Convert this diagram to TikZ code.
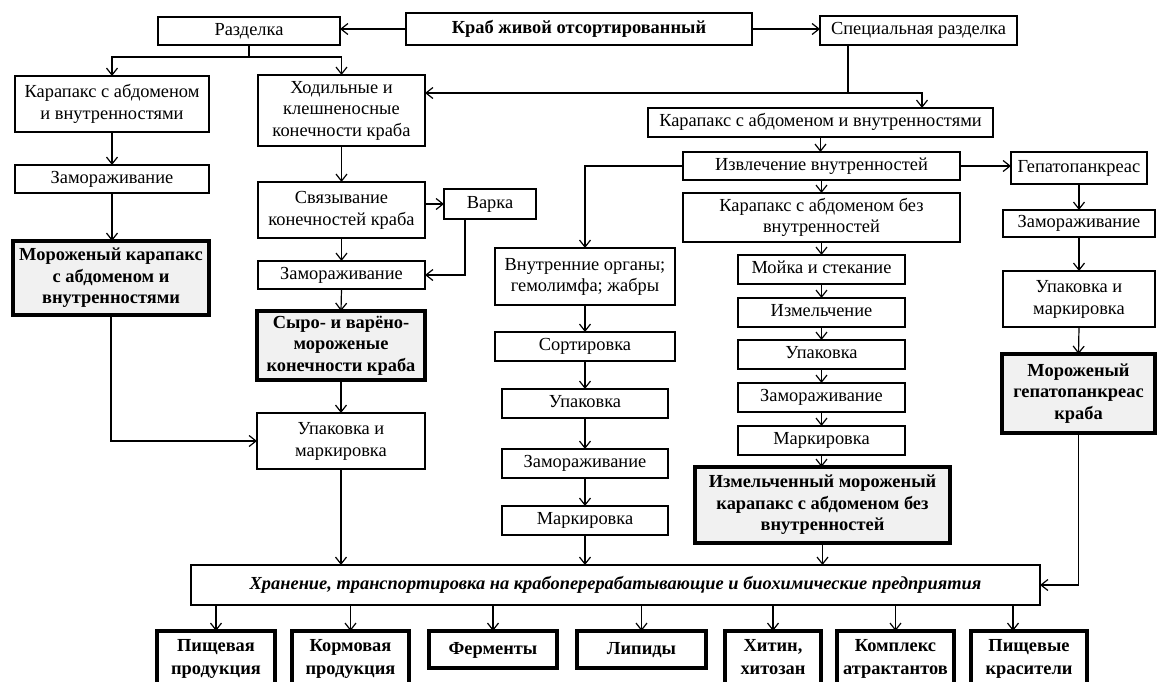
\documentclass[tikz,border=0pt]{standalone}
\usepackage{fontspec}
\setmainfont{Liberation Serif}
\usetikzlibrary{arrows.meta}
\definecolor{boxgrey}{HTML}{F1F1F1}
\tikzset{
  box/.style={draw, line width=1.6pt, fill=white, inner sep=0pt, outer sep=0pt, align=center,
    font=\fontsize{18.4}{21.5}\selectfont},
  prod/.style={line width=4pt, fill=boxgrey, font=\fontsize{18.4}{21.5}\selectfont\bfseries},
  fin/.style={line width=4pt, fill=white, font=\fontsize{18.4}{23}\selectfont\bfseries},
  arr/.style={line width=1.2pt, -{Straight Barb[length=7pt,width=11pt]}},
  ln/.style={line width=1.2pt}
}
\newcommand\mybox[7][]{%
  \pgfmathsetmacro\bw{#5-#3}\pgfmathsetmacro\bh{#6-#4}%
  \node[box,#1,minimum width=\bw pt,minimum height=\bh pt] (#2) at ({(#3+#5)/2},{(#4+#6)/2}) {\strut#7\strut};}
\begin{document}
\begin{tikzpicture}[x=1pt,y=-1pt]
\useasboundingbox (0,0) rectangle (1159,681);
\clip (0,0) rectangle (1159,681);
% top row
\mybox{razd}{158}{17}{340}{45}{Разделка}
\mybox[line width=2.6pt,font=\fontsize{18.4}{21.5}\selectfont\bfseries]{krab}{406}{13}{752}{45}{Краб живой отсортированный}
\mybox{spec}{820}{16}{1017}{45}{Специальная разделка}
% column 1
\mybox{kar1}{15}{76}{209}{132}{Карапакс с абдоменом\\и внутренностями}
\mybox{kar1z}{15}{165}{209}{193}{Замораживание}
\mybox[prod]{morkar}{13}{241}{209}{315}{Мороженый карапакс\\с абдоменом и\\внутренностями}
% column 2
\mybox{hod}{258}{75}{425}{146}{Ходильные и\\клешненосные\\конечности краба}
\mybox{svyaz}{258}{182}{425}{238}{Связывание\\конечностей краба}
\mybox{varka}{444}{189}{536}{219}{Варка}
\mybox{zam2}{258}{261}{425}{289}{Замораживание}
\mybox[prod]{syro}{257}{311}{425}{380}{Сыро- и варёно-\\мороженые\\конечности краба}
\mybox{upmar2}{257}{413}{425}{469}{Упаковка и\\маркировка}
% column 3
\mybox{vnut}{495}{248}{675}{305}{Внутренние органы;\\гемолимфа; жабры}
\mybox{sort}{495}{332}{675}{361}{Сортировка}
\mybox{upak3}{502}{389}{668}{418}{Упаковка}
\mybox{zam3}{502}{449}{668}{478}{Замораживание}
\mybox{mark3}{502}{506}{668}{535}{Маркировка}
% column 4
\mybox{kar2}{648}{108}{993}{137}{Карапакс с абдоменом и внутренностями}
\mybox{izv}{683}{152}{960}{180}{Извлечение внутренностей}
\mybox{karbez}{683}{193}{960}{242}{Карапакс с абдоменом без\\внутренностей}
\mybox{moika}{738}{255}{905}{284}{Мойка и стекание}
\mybox{izm}{738}{298}{905}{327}{Измельчение}
\mybox{upak4}{738}{340}{905}{369}{Упаковка}
\mybox{zam4}{738}{383}{905}{412}{Замораживание}
\mybox{mark4}{738}{426}{905}{455}{Маркировка}
\mybox[prod]{izmmor}{695}{467}{950}{543}{Измельченный мороженый\\карапакс с абдоменом без\\внутренностей}
% column 5
\mybox{gep}{1011}{152}{1147}{184}{Гепатопанкреас}
\mybox{gepz}{1003}{210}{1155}{237}{Замораживание}
\mybox{gepup}{1003}{271}{1155}{327}{Упаковка и\\маркировка}
\mybox[prod]{gepmor}{1002}{354}{1155}{433}{Мороженый\\гепатопанкреас\\краба}
% storage
\mybox[line width=2pt,font=\fontsize{18.4}{21.5}\selectfont\bfseries\itshape]{hran}{191}{565}{1040}{605}{Хранение, транспортировка на крабоперерабатывающие и биохимические предприятия}
% final products
\mybox[fin]{p1}{157}{631}{275}{686}{Пищевая\\продукция}
\mybox[fin]{p2}{292}{631}{409}{686}{Кормовая\\продукция}
\mybox[fin]{p3}{429}{631}{557}{668}{Ферменты}
\mybox[fin]{p4}{577}{631}{706}{668}{Липиды}
\mybox[fin]{p5}{725}{631}{821}{686}{Хитин,\\хитозан}
\mybox[fin]{p6}{837}{631}{954}{686}{Комплекс\\атрактантов}
\mybox[fin]{p7}{971}{631}{1087}{686}{Пищевые\\красители}
% coordinates
\coordinate (c1) at (249,57);
\coordinate (c2) at (848,93);
\coordinate (c3) at (922,93);
\coordinate (c4) at (465,275);
\coordinate (c5) at (585,166);
\coordinate (c6) at (1013,631);
% connectors top
\draw[arr] (krab.west) -- (krab.west -| razd.east);
\draw[arr] (krab.east) -- (krab.east -| spec.west);
\draw[ln] (razd.south) -- (c1);
\draw[arr] (c1) -| (kar1.north);
\draw[arr] (c1) -| (hod.north);
\draw[ln] (spec.south -| c2) -- (c2);
\draw[arr] (c2) -- (c2 -| hod.east);
\draw[arr] (c2) -- (c3) -- (c3 |- kar2.north);
% column 1
\draw[arr] (kar1.south) -- (kar1z.north);
\draw[arr] (kar1z.south) -- (kar1z.south |- morkar.north);
\draw[arr] (morkar.south) |- (upmar2.west);
% column 2
\draw[arr] (hod.south) -- (svyaz.north);
\draw[arr] (varka.west -| svyaz.east) -- (varka.west);
\draw[arr] (varka.south -| c4) -- (c4) -- (zam2.east);
\draw[arr] (svyaz.south) -- (zam2.north);
\draw[arr] (zam2.south) -- (syro.north);
\draw[arr] (syro.south) -- (upmar2.north);
\draw[arr] (upmar2.south) -- (upmar2.south |- hran.north);
% column 3
\draw[arr] (izv.west) -- (c5) -- (vnut.north);
\draw[arr] (vnut.south) -- (sort.north);
\draw[arr] (sort.south) -- (upak3.north);
\draw[arr] (upak3.south) -- (zam3.north);
\draw[arr] (zam3.south) -- (mark3.north);
\draw[arr] (mark3.south) -- (mark3.south |- hran.north);
% column 4
\draw[arr] (kar2.south) -- (kar2.south |- izv.north);
\draw[arr] (izv.south) -- (karbez.north);
\draw[arr] (karbez.south) -- (moika.north);
\draw[arr] (moika.south) -- (izm.north);
\draw[arr] (izm.south) -- (upak4.north);
\draw[arr] (upak4.south) -- (zam4.north);
\draw[arr] (zam4.south) -- (mark4.north);
\draw[arr] (mark4.south) -- (mark4.south |- izmmor.north);
\draw[arr] (izmmor.south) -- (izmmor.south |- hran.north);
% column 5
\draw[arr] (izv.east) -- (izv.east -| gep.west);
\draw[arr] (gep.south -| gepz.north) -- (gepz.north);
\draw[arr] (gepz.south) -- (gepup.north);
\draw[arr] (gepup.south) -- (gepmor.north);
\draw[arr] (gepmor.south) |- (hran.east);
% bottom
\draw[arr] (hran.south -| p1.north) -- (p1.north);
\draw[arr] (hran.south -| p2.north) -- (p2.north);
\draw[arr] (hran.south -| p3.north) -- (p3.north);
\draw[arr] (hran.south -| p4.north) -- (p4.north);
\draw[arr] (hran.south -| p5.north) -- (p5.north);
\draw[arr] (hran.south -| p6.north) -- (p6.north);
\draw[arr] (hran.south -| c6) -- (c6);
\end{tikzpicture}
\end{document}
